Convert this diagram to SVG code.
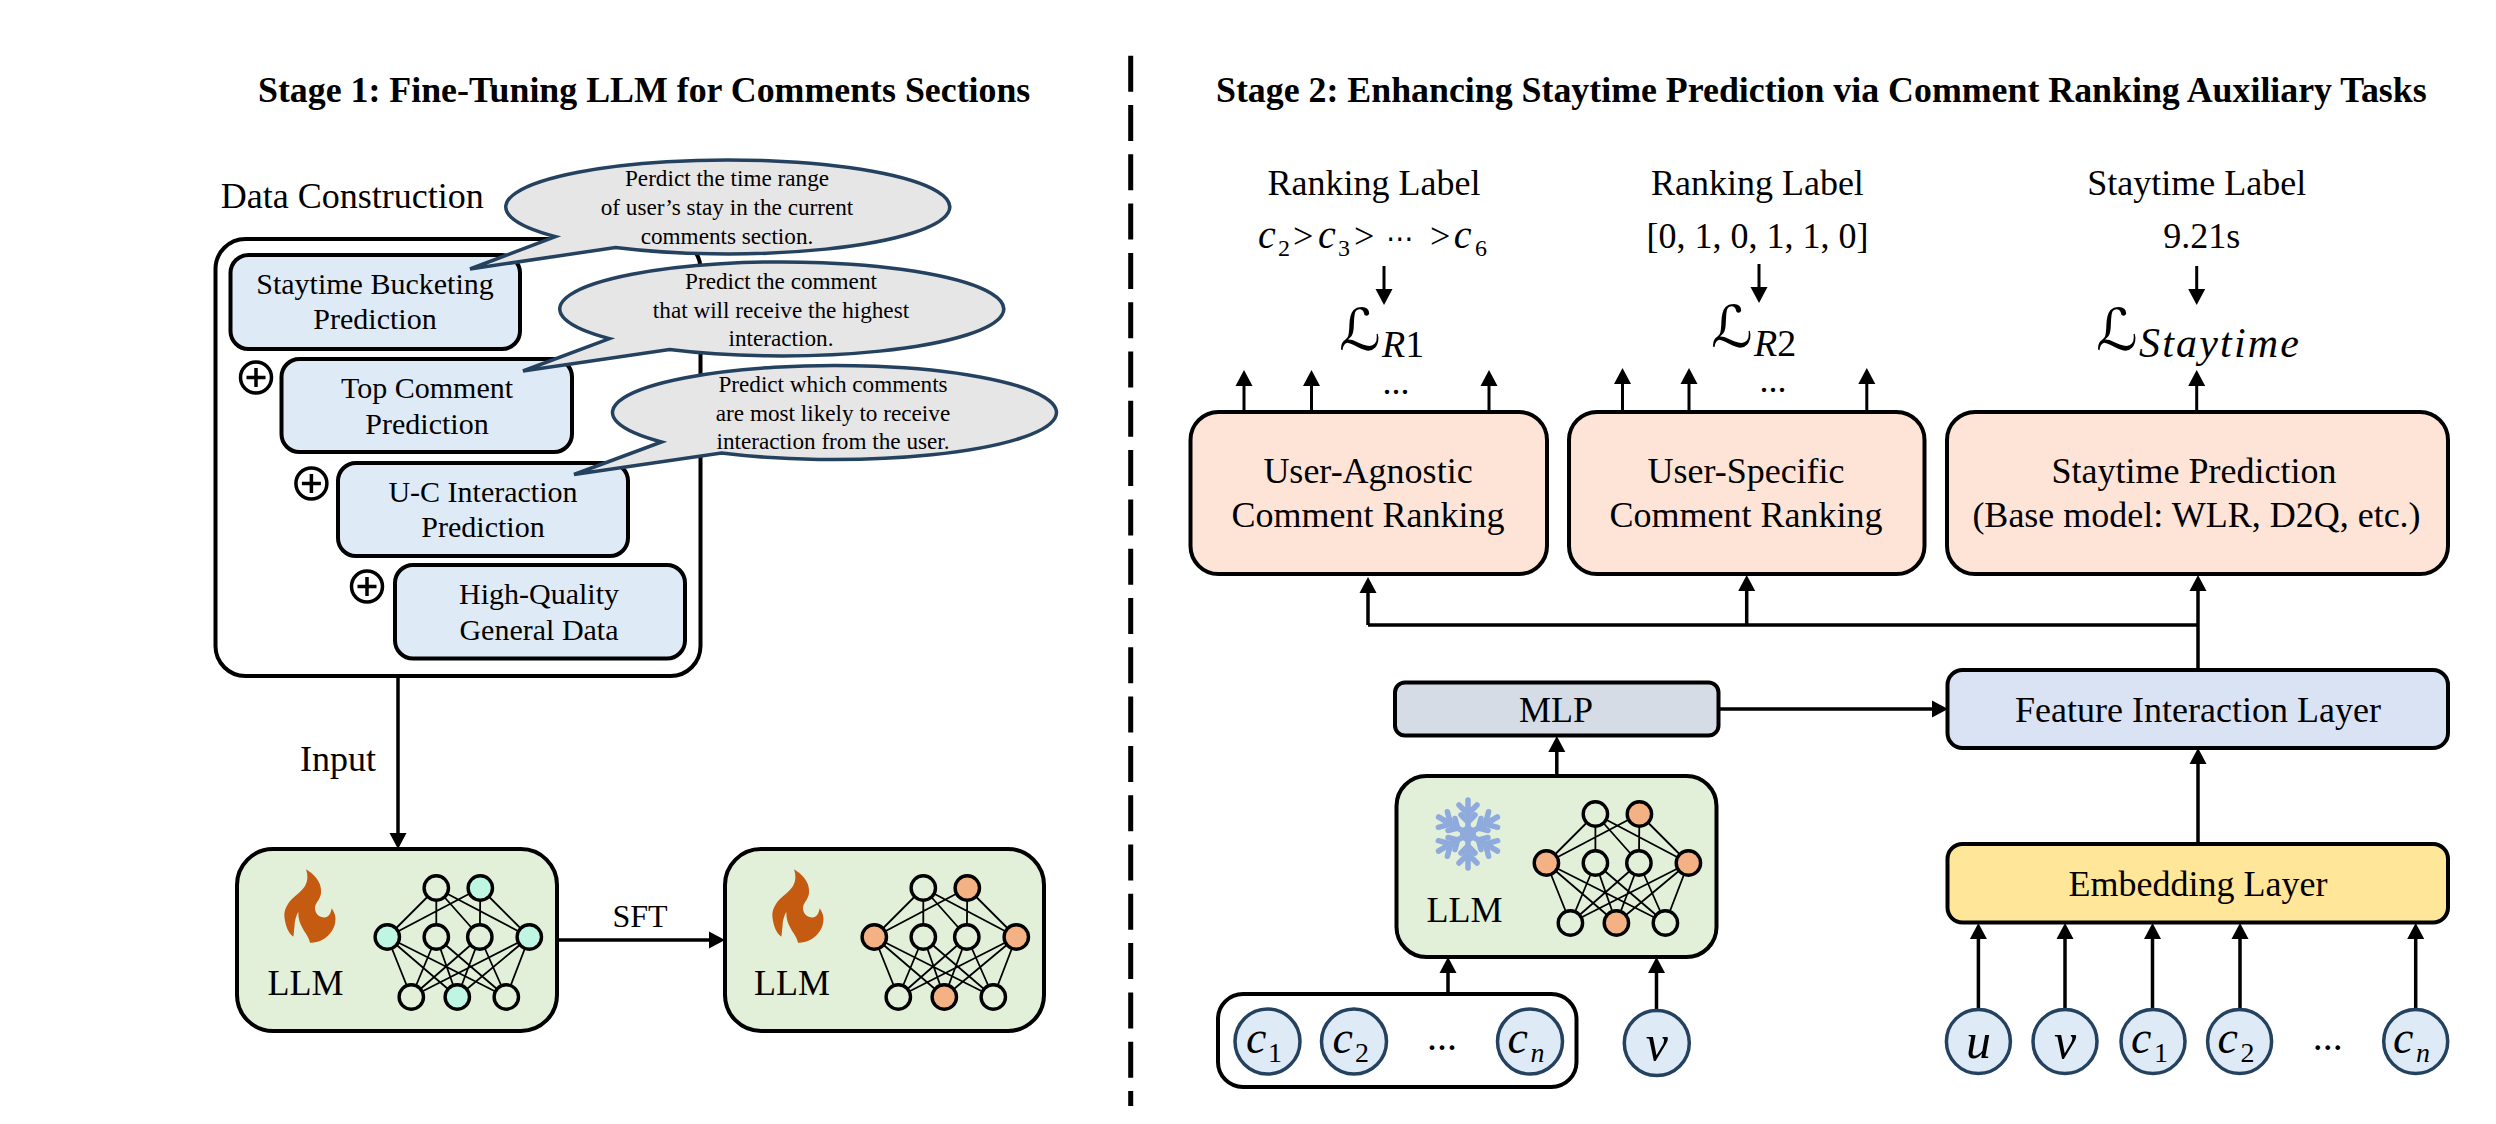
<svg xmlns="http://www.w3.org/2000/svg" xmlns:xlink="http://www.w3.org/1999/xlink" width="2496" height="1124" viewBox="0 0 2496 1124">
<style>
text{font-family:"Liberation Serif","Times New Roman",serif;fill:#000;font-size:36px}
.m{text-anchor:middle}
.b{font-weight:bold;font-size:35.85px}
.s{font-size:30px}
.t{font-size:23.2px}
.i{font-style:italic}
.box{stroke:#000;stroke-width:4}
.thin{stroke:#000;stroke-width:3.5}
.blue{fill:#DEEBF7}
.green{fill:#E2EFD9}
.pink{fill:#FDE4D7}
.bub{fill:#E7E6E6;stroke:#24425F;stroke-width:3.5}
.in{fill:#DEEBF7;stroke:#24425F;stroke-width:3.5}
.plus{fill:#fff;stroke:#000;stroke-width:3.5}
.nn{stroke:#000;stroke-width:3.4;fill:#E2EFD9}
.o{fill:#F4B183}
.c{fill:#BFF5E3}
.edge{stroke:#000;stroke-width:1.8;fill:none}
.ln{stroke:#000;stroke-width:3.5;fill:none}
.ar{stroke:#000;stroke-width:3.5;fill:none;marker-end:url(#ah)}
.tn{stroke:#000;stroke-width:3;fill:none;marker-end:url(#ah)}
</style>
<defs>
<marker id="ah" markerUnits="userSpaceOnUse" markerWidth="18" markerHeight="18" refX="0" refY="9" orient="auto"><path d="M0,0.5L16,9L0,17.5Z" fill="#000"/></marker>
<path id="flame" fill="#C55A11" d="M306,869.3C314,874 321,882 321,890C322,899 315,902 315,908C315,914 320,918 325,917.5C329,917 331,913 331.7,908.3C335,913 336,917 335.3,922C334,930 329,936 322,940C318,942 313,943 310,942.7C309,937 305,933 303,929C300,924 298,918 298.3,911.7C296,916 294.5,921 294.5,926C294,930 294,934 293.3,936.7C288,933 285,925 284.3,915C284.5,909 288,903 292,899C296,895 302,891 305,886C308,881 308,875 306,869.3Z"/>
<g id="net">
<path class="edge" d="M0,0L-49,49M0,0V49M0,0L43.5,49M0,0L93,49M44,0L-49,49M44,0L43.5,49M44,0L93,49M-49,49L-25,109M-49,49L21,109M-49,49L70,109M0,49L-25,109M0,49L21,109M0,49L70,109M43.5,49L-25,109M43.5,49L21,109M43.5,49L70,109M93,49L-25,109M93,49L21,109M93,49L70,109"/>
</g>
<g id="arm" stroke="#8FAADC" stroke-width="5.5" fill="none" stroke-linecap="round"><path d="M0,0V-34M-9,-29L0,-20L9,-29M-7,-19L0,-12L7,-19"/></g>
</defs>

<rect width="2496" height="1124" fill="#fff"/>

<g id="connectors">
<path d="M1130.7,55.7V1106" stroke="#000" stroke-width="5" stroke-dasharray="36 13.3" fill="none"/>
<path class="ar" d="M398,676V833"/>
<path class="ar" d="M557,940H709"/>
<path class="ln" d="M1368,625H2198"/>
<path class="ar" d="M1368,625V593"/>
<path class="ar" d="M1746.7,625V591"/>
<path class="ar" d="M2198,670V591"/>
<path class="ar" d="M1718,709H1932"/>
<path class="ar" d="M2198,844V764"/>
<path class="ar" d="M1556.8,776V752"/>
<path class="ar" d="M1448,994V973"/>
<path class="ar" d="M1656.5,1010V973"/>
<path class="ar" d="M1978.4,1008V939"/>
<path class="ar" d="M2065,1008V939"/>
<path class="ar" d="M2152.5,1008V939"/>
<path class="ar" d="M2240,1008V939"/>
<path class="ar" d="M2415.7,1008V939"/>
<path class="tn" d="M1244,412V386"/>
<path class="tn" d="M1311.5,412V386"/>
<path class="tn" d="M1489,412V386"/>
<path class="tn" d="M1622.5,412V384"/>
<path class="tn" d="M1689,412V384"/>
<path class="tn" d="M1866.8,412V384"/>
<path class="tn" d="M2196.7,412V386"/>
<path class="tn" d="M1384,266V289"/>
<path class="tn" d="M1759,264V287"/>
<path class="tn" d="M2196.7,266V289"/>
</g>

<g id="title1"><text class="b" x="258" y="102">Stage 1: Fine-Tuning LLM for Comments Sections</text></g>
<g id="title2"><text class="b" x="1216" y="102">Stage 2: Enhancing Staytime Prediction via Comment Ranking Auxiliary Tasks</text></g>

<g id="data-construction">
<text x="220.7" y="208">Data Construction</text>
<rect x="215.5" y="239" width="485" height="437" rx="30" fill="#fff" class="box"/>
</g>
<g id="n-staytime-bucket"><rect x="230.5" y="255" width="289.5" height="94" rx="18" class="box blue"/><text class="m s" x="375" y="294">Staytime Bucketing</text><text class="m s" x="375" y="329">Prediction</text></g>
<g id="n-top-comment"><rect x="281.5" y="359" width="290.5" height="93" rx="18" class="box blue"/><text class="m s" x="427" y="398">Top Comment</text><text class="m s" x="427" y="434">Prediction</text></g>
<g id="n-uc"><rect x="338" y="463" width="290" height="93" rx="18" class="box blue"/><text class="m s" x="483" y="501.5">U-C Interaction</text><text class="m s" x="483" y="537">Prediction</text></g>
<g id="n-hq"><rect x="395" y="565" width="290" height="93.5" rx="18" class="box blue"/><text class="m s" x="539" y="604">High-Quality</text><text class="m s" x="539" y="640">General Data</text></g>
<g id="plus1"><circle cx="256" cy="377.5" r="15.5" class="plus"/><path class="thin" d="M246.5,377.5H265.5M256,368V387"/></g>
<g id="plus2"><circle cx="311.4" cy="483.5" r="15.5" class="plus"/><path class="thin" d="M301.9,483.5H320.9M311.4,474V493"/></g>
<g id="plus3"><circle cx="367" cy="586.5" r="15.5" class="plus"/><path class="thin" d="M357.5,586.5H376.5M367,577V596"/></g>

<g id="bubble1"><path class="bub" d="M555.5,236.6A222,47 0 1 1 615.5,247.5L470,269Z"/><text class="m t" x="727" y="186">Perdict the time range</text><text class="m t" x="727" y="215">of user’s stay in the current</text><text class="m t" x="727" y="243.5">comments section.</text></g>
<g id="bubble2"><path class="bub" d="M609.5,338.6A222,47 0 1 1 669.5,349.5L523,371Z"/><text class="m t" x="781" y="289">Predict the comment</text><text class="m t" x="781" y="317.5">that will receive the highest</text><text class="m t" x="781" y="346">interaction.</text></g>
<g id="bubble3"><path class="bub" d="M661.5,442A222,47 0 1 1 721.5,453L574,474.5Z"/><text class="m t" x="833" y="392">Predict which comments</text><text class="m t" x="833" y="420.5">are most likely to receive</text><text class="m t" x="833" y="449">interaction from the user.</text></g>

<text id="input-label" class="m" x="338" y="771">Input</text>
<text id="sft-label" class="m" x="640" y="927" style="font-size:32px">SFT</text>

<g id="llm1"><rect x="237" y="849" width="320" height="182" rx="36" class="box green"/>
<use xlink:href="#flame" href="#flame"/><text class="m" x="305.5" y="995">LLM</text>
<g transform="translate(436.3,888)"><use xlink:href="#net" href="#net"/>
<circle cx="0" cy="0" r="12.2" class="nn"/><circle cx="44" cy="0" r="12.2" class="nn c"/><circle cx="-49" cy="49" r="12.2" class="nn c"/><circle cx="0" cy="49" r="12.2" class="nn"/><circle cx="43.5" cy="49" r="12.2" class="nn"/><circle cx="93" cy="49" r="12.2" class="nn c"/><circle cx="-25" cy="109" r="12.2" class="nn"/><circle cx="21" cy="109" r="12.2" class="nn c"/><circle cx="70" cy="109" r="12.2" class="nn"/></g></g>

<g id="llm2"><rect x="725" y="849" width="319" height="182" rx="36" class="box green"/>
<use xlink:href="#flame" href="#flame" transform="translate(488,0)"/><text class="m" x="792" y="995">LLM</text>
<g transform="translate(923.3,888)"><use xlink:href="#net" href="#net"/>
<circle cx="0" cy="0" r="12.2" class="nn"/><circle cx="44" cy="0" r="12.2" class="nn o"/><circle cx="-49" cy="49" r="12.2" class="nn o"/><circle cx="0" cy="49" r="12.2" class="nn"/><circle cx="43.5" cy="49" r="12.2" class="nn"/><circle cx="93" cy="49" r="12.2" class="nn o"/><circle cx="-25" cy="109" r="12.2" class="nn"/><circle cx="21" cy="109" r="12.2" class="nn o"/><circle cx="70" cy="109" r="12.2" class="nn"/></g></g>

<g id="llm3"><rect x="1396.5" y="776" width="320" height="181" rx="30" class="box green"/>
<g transform="translate(1468,834)"><circle r="8" fill="#8FAADC"/><use xlink:href="#arm" href="#arm"/><use xlink:href="#arm" href="#arm" transform="rotate(60)"/><use xlink:href="#arm" href="#arm" transform="rotate(120)"/><use xlink:href="#arm" href="#arm" transform="rotate(180)"/><use xlink:href="#arm" href="#arm" transform="rotate(240)"/><use xlink:href="#arm" href="#arm" transform="rotate(300)"/></g>
<text class="m" x="1464.6" y="921.5">LLM</text>
<g transform="translate(1595.4,814)"><use xlink:href="#net" href="#net"/>
<circle cx="0" cy="0" r="12.2" class="nn"/><circle cx="44" cy="0" r="12.2" class="nn o"/><circle cx="-49" cy="49" r="12.2" class="nn o"/><circle cx="0" cy="49" r="12.2" class="nn"/><circle cx="43.5" cy="49" r="12.2" class="nn"/><circle cx="93" cy="49" r="12.2" class="nn o"/><circle cx="-25" cy="109" r="12.2" class="nn"/><circle cx="21" cy="109" r="12.2" class="nn o"/><circle cx="70" cy="109" r="12.2" class="nn"/></g></g>

<g id="label-ranking1"><text class="m" x="1374" y="195">Ranking Label</text>
<text y="248"><tspan class="i" x="1258" style="font-size:40px">c</tspan><tspan x="1278" y="256" style="font-size:24px">2</tspan><tspan x="1293" y="248">&gt;</tspan><tspan class="i" x="1318" style="font-size:40px">c</tspan><tspan x="1338" y="256" style="font-size:24px">3</tspan><tspan x="1354" y="248">&gt;</tspan><tspan x="1430">&gt;</tspan><tspan class="i" x="1453.8" style="font-size:40px">c</tspan><tspan x="1475" y="256" style="font-size:24px">6</tspan></text>
<text x="1386" y="248" style="font-family:'DejaVu Sans',sans-serif;font-size:28px">⋯</text></g>
<g id="label-ranking2"><text class="m" x="1757.4" y="195">Ranking Label</text><text class="m" x="1757.4" y="248">[0, 1, 0, 1, 1, 0]</text></g>
<g id="label-staytime"><text class="m" x="2196.7" y="195">Staytime Label</text><text class="m" x="2201.7" y="248">9.21s</text></g>

<g id="loss1"><text x="1339" y="350" style="font-family:'DejaVu Sans',sans-serif;font-size:58px">ℒ</text><text x="1382" y="357" style="font-size:38px"><tspan class="i">R</tspan>1</text></g>
<g id="loss2"><text x="1711" y="347" style="font-family:'DejaVu Sans',sans-serif;font-size:58px">ℒ</text><text x="1754" y="356" style="font-size:38px"><tspan class="i">R</tspan>2</text></g>
<g id="loss3"><text x="2096" y="350" style="font-family:'DejaVu Sans',sans-serif;font-size:58px">ℒ</text><text class="i" x="2139" y="357" textLength="160" style="font-size:42px">Staytime</text></g>

<text id="dots1" class="m" x="1396" y="394" style="font-size:36px">...</text>
<text id="dots2" class="m" x="1773" y="392" style="font-size:36px">...</text>

<g id="n-agnostic"><rect x="1190.5" y="412" width="356.5" height="162" rx="28" class="box pink"/><text class="m" x="1368" y="483">User-Agnostic</text><text class="m" x="1368" y="527">Comment Ranking</text></g>
<g id="n-specific"><rect x="1569" y="412" width="355.5" height="162" rx="28" class="box pink"/><text class="m" x="1746" y="483">User-Specific</text><text class="m" x="1746" y="527">Comment Ranking</text></g>
<g id="n-staytime"><rect x="1947" y="412" width="501" height="162" rx="28" class="box pink"/><text class="m" x="2194" y="483">Staytime Prediction</text><text class="m" x="2196.5" y="527">(Base model: WLR, D2Q, etc.)</text></g>

<g id="n-mlp"><rect x="1395" y="682.5" width="323.5" height="53" rx="10" class="box" fill="#D6DCE5"/><text class="m" x="1556" y="721.5">MLP</text></g>
<g id="n-feature"><rect x="1947.5" y="670" width="500.5" height="78" rx="15" class="box" fill="#DAE3F3"/><text class="m" x="2198" y="721.5">Feature Interaction Layer</text></g>
<g id="n-embedding"><rect x="1947.5" y="844" width="500.5" height="78.5" rx="15" class="box" fill="#FFE699"/><text class="m" x="2198" y="895.5">Embedding Layer</text></g>

<g id="n-comments-group"><rect x="1218" y="994" width="358.5" height="93" rx="25" fill="#fff" class="box"/></g>
<g id="n-c1-a"><circle cx="1267.5" cy="1041.5" r="32.5" class="in"/><text class="i" x="1246" y="1053" style="font-size:46px">c</text><text x="1268" y="1062" style="font-size:28px">1</text></g>
<g id="n-c2-a"><circle cx="1354" cy="1041.5" r="32.5" class="in"/><text class="i" x="1332.5" y="1053" style="font-size:46px">c</text><text x="1355" y="1062" style="font-size:28px">2</text></g>
<text id="dots3" class="m" x="1442" y="1050" style="font-size:40px">...</text>
<g id="n-cn-a"><circle cx="1530" cy="1041.5" r="32.5" class="in"/><text class="i" x="1507.5" y="1053" style="font-size:46px">c</text><text class="i" x="1530.5" y="1062" style="font-size:28px">n</text></g>
<g id="n-v-a"><circle cx="1656.8" cy="1043" r="32.5" class="in"/><text class="i m" x="1656.8" y="1060" style="font-size:50px">v</text></g>

<g id="n-u"><circle cx="1978.4" cy="1041.5" r="32" class="in"/><text class="i m" x="1978.4" y="1058" style="font-size:50px">u</text></g>
<g id="n-v"><circle cx="2065" cy="1041.5" r="32" class="in"/><text class="i m" x="2065" y="1058" style="font-size:50px">v</text></g>
<g id="n-c1"><circle cx="2153" cy="1041.5" r="32" class="in"/><text class="i" x="2131" y="1053" style="font-size:46px">c</text><text x="2154" y="1062" style="font-size:28px">1</text></g>
<g id="n-c2"><circle cx="2239.6" cy="1041.5" r="32" class="in"/><text class="i" x="2217.6" y="1053" style="font-size:46px">c</text><text x="2240.6" y="1062" style="font-size:28px">2</text></g>
<text id="dots4" class="m" x="2327.7" y="1050" style="font-size:40px">...</text>
<g id="n-cn"><circle cx="2415.7" cy="1041.5" r="32" class="in"/><text class="i" x="2393" y="1053" style="font-size:46px">c</text><text class="i" x="2416" y="1062" style="font-size:28px">n</text></g>
</svg>
